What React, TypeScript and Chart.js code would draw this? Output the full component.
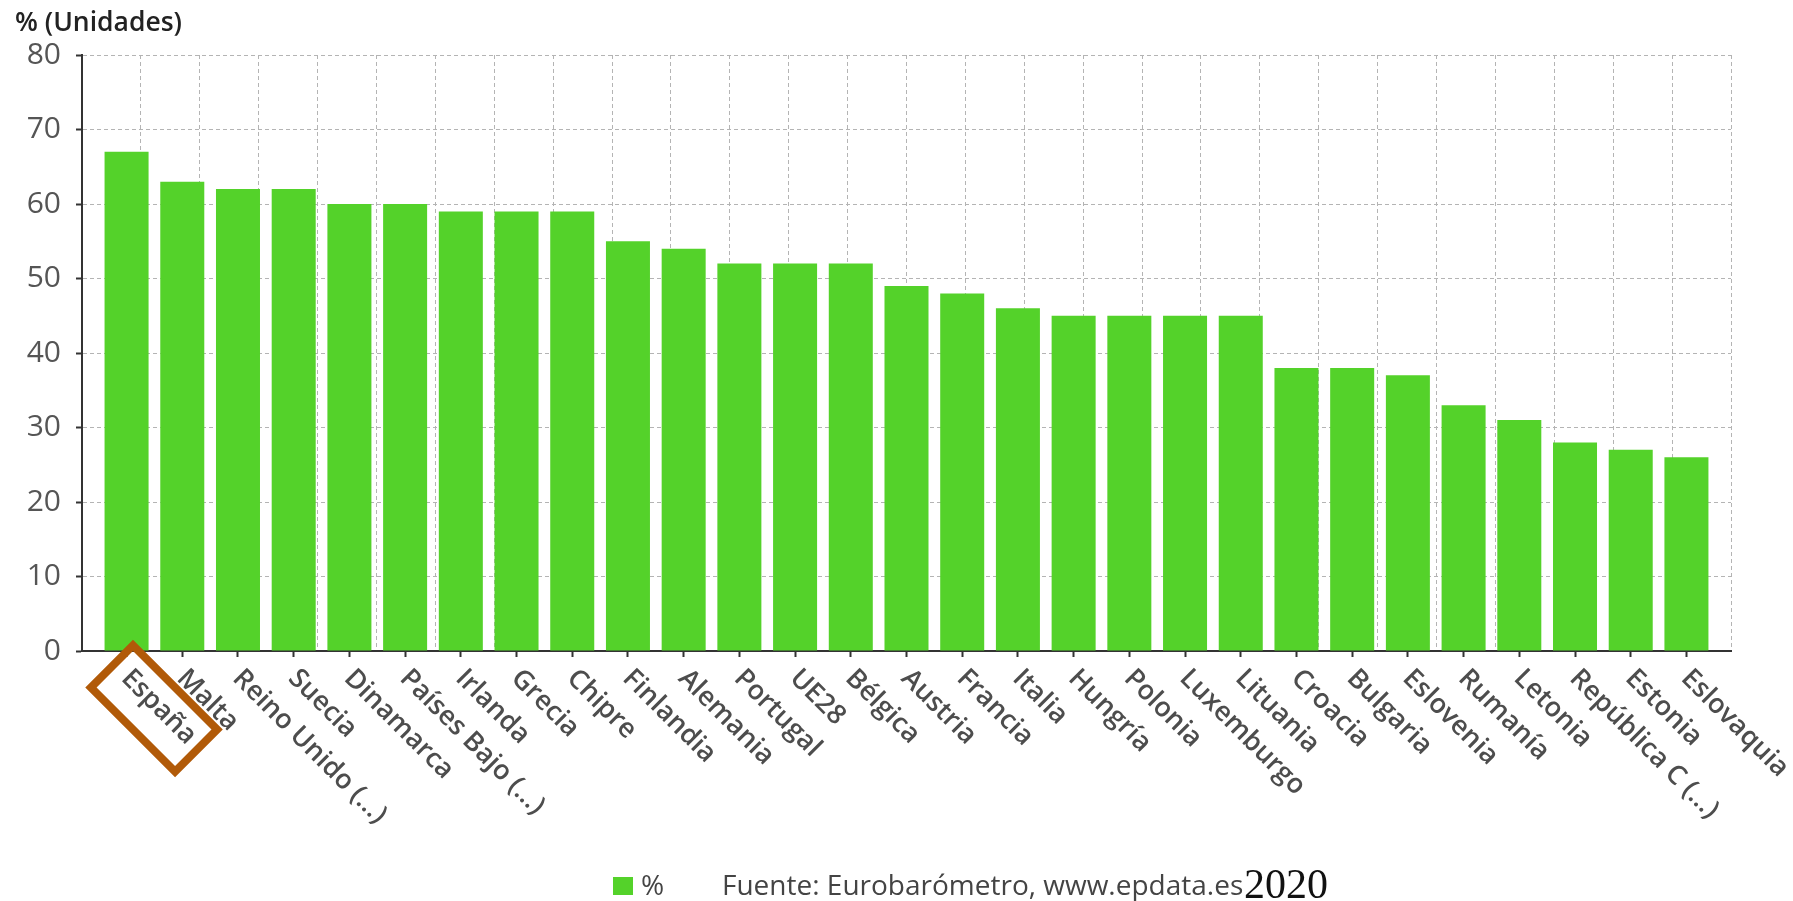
import React, { useEffect, useRef } from "react";
import { Chart, registerables } from "chart.js";

Chart.register(...registerables);

const categories = [
  "España", "Malta", "Reino Unido (...)", "Suecia", "Dinamarca", "Países Bajo (...)",
  "Irlanda", "Grecia", "Chipre", "Finlandia", "Alemania", "Portugal", "UE28", "Bélgica",
  "Austria", "Francia", "Italia", "Hungría", "Polonia", "Luxemburgo", "Lituania", "Croacia",
  "Bulgaria", "Eslovenia", "Rumanía", "Letonia", "República C (...)", "Estonia", "Eslovaquia",
];
const values = [
  67, 63, 62, 62, 60, 60, 59, 59, 59, 55, 54, 52, 52, 52, 49, 48, 46, 45, 45, 45, 45, 38,
  38, 37, 33, 31, 28, 27, 26,
];
const yTicks = [0, 10, 20, 30, 40, 50, 60, 70, 80];
const seriesLabel = "%";
const axisTitle = "% (Unidades)";
const sourceText = "Fuente: Eurobarómetro, www.epdata.es";
const yearText = "2020";
const highlighted = "España";
const gridDivisions = 28;

const GREEN = "#54d22a";
const FONT = '"Open Sans", "Noto Sans", sans-serif';

export default function App() {
  const canvasRef = useRef<HTMLCanvasElement | null>(null);

  useEffect(() => {
    const canvas = canvasRef.current;
    if (!canvas) return;

    const labelPlugin = {
      id: "rotatedLabels",
      afterDraw(chart: any) {
        const xs = chart.scales.x;
        const ctx = chart.ctx as CanvasRenderingContext2D;
        const y0 = xs.top;
        ctx.save();
        ctx.font = `600 27px ${FONT}`;
        ctx.fillStyle = "#4d4d4d";
        ctx.textAlign = "left";
        ctx.textBaseline = "middle";
        categories.forEach((c, i) => {
          const px = xs.getPixelForValue(i);
          ctx.save();
          ctx.translate(px - 1, y0 + 23);
          ctx.rotate(Math.PI / 4);
          ctx.fillText(c, 0, 0);
          if (c === highlighted) {
            ctx.strokeStyle = "#b15a08";
            ctx.lineWidth = 8;
            ctx.lineJoin = "miter";
            ctx.strokeRect(-15, -25.5, 119, 59.5);
          }
          ctx.restore();
        });
        ctx.restore();
      },
    };

    const chart = new Chart(canvas, {
      type: "bar",
      data: {
        datasets: [
          {
            label: seriesLabel,
            data: values.map((v, i) => ({ x: i, y: v })),
            backgroundColor: GREEN,
            borderWidth: 0,
            barPercentage: 0.79,
            categoryPercentage: 1,
            xAxisID: "x",
            yAxisID: "y",
          },
        ],
      },
      options: {
        responsive: false,
        animation: false,
        layout: { padding: { top: 55, right: 62, bottom: 0, left: 0 } },
        plugins: {
          legend: { display: false },
          title: { display: false },
          tooltip: { enabled: false },
        },
        scales: {
          x: {
            type: "linear",
            position: "bottom",
            min: -0.8,
            max: 28.8,
            offset: false,
            ticks: { display: false, stepSize: 1, includeBounds: false },
            grid: {
              offset: false,
              drawOnChartArea: false,
              drawTicks: true,
              tickLength: 6,
              tickWidth: 2,
              tickColor: "#333",
            },
            border: { display: true, color: "#333", width: 2 },
            afterFit: (s: any) => {
              s.height = 250;
            },
          },
          x2: {
            type: "linear",
            axis: "x",
            position: "top",
            min: 0,
            max: gridDivisions,
            offset: false,
            ticks: { display: false, stepSize: 1 },
            grid: { offset: false, color: "#b4b4b4", lineWidth: 1, drawTicks: false },
            border: { display: false, dash: [4, 3] },
            afterFit: (s: any) => {
              s.height = 0;
            },
          },
          y: {
            type: "linear",
            min: 0,
            max: 80,
            afterBuildTicks: (s: any) => {
              s.ticks = yTicks.map((v) => ({ value: v }));
            },
            ticks: {
              color: "#555",
              font: { family: FONT, size: 30, weight: 500 },
              padding: 15,
            },
            grid: {
              color: "#b4b4b4",
              lineWidth: 1,
              tickLength: 6,
              tickWidth: 2,
              tickColor: "#333",
              tickBorderDash: [],
            },
            border: { display: true, color: "#333", width: 2, dash: [4, 3] },
            afterFit: (s: any) => {
              s.width = 82;
            },
          },
        },
      },
      plugins: [labelPlugin],
    } as any);

    return () => chart.destroy();
  }, []);

  return (
    <div style={{ position: "fixed", left: 0, top: 0, width: 1793, height: 901, background: "#fff" }}>
      <canvas ref={canvasRef} width={1793} height={901} style={{ width: 1793, height: 901, display: "block" }} />
      <div
        style={{
          position: "absolute", left: 15, top: 3, fontFamily: FONT, fontWeight: 600,
          fontSize: 26.5, color: "#222", lineHeight: "36px", whiteSpace: "nowrap",
        }}
      >
        {axisTitle}
      </div>
      <div style={{ position: "absolute", left: 613, top: 877, width: 20, height: 18, background: GREEN }} />
      <div
        style={{
          position: "absolute", left: 641, top: 870, fontFamily: FONT, fontSize: 28,
          lineHeight: "28px", color: "#444", whiteSpace: "nowrap",
        }}
      >
        {seriesLabel}
      </div>
      <div
        style={{
          position: "absolute", left: 722, top: 870, fontFamily: FONT, fontSize: 28,
          lineHeight: "28px", color: "#444", whiteSpace: "nowrap",
        }}
      >
        {sourceText}
      </div>
      <div
        style={{
          position: "absolute", left: 1244, top: 863, fontFamily: '"Liberation Serif", "Times New Roman", serif',
          fontSize: 42, lineHeight: "42px", color: "#111", whiteSpace: "nowrap",
        }}
      >
        {yearText}
      </div>
    </div>
  );
}
